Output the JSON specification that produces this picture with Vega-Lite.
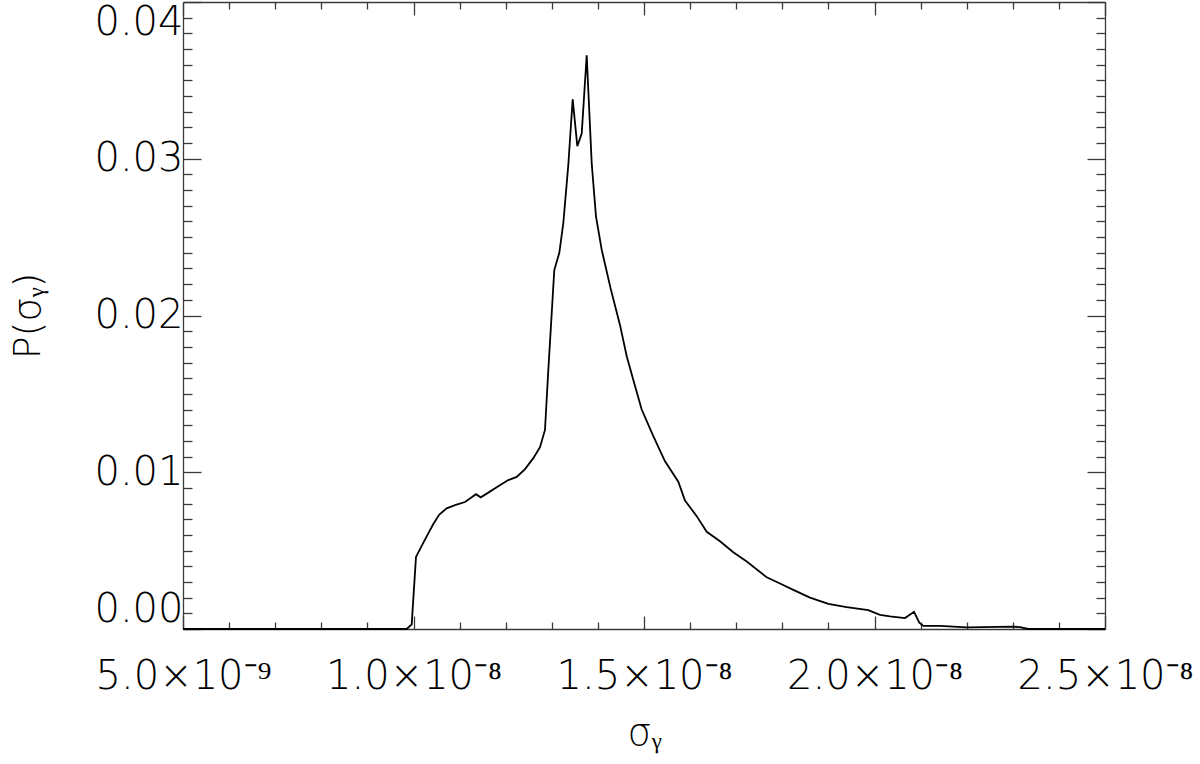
{
  "$schema": "https://vega.github.io/schema/vega-lite/v6.json",
  "width": 922,
  "height": 627,
  "autosize": "none",
  "padding": {"left": 183, "top": 2, "right": 95, "bottom": 135},
  "background": "white",
  "config": {
    "view": {"stroke": null},
    "axis": {
      "grid": false,
      "domainColor": "#3a3a3a",
      "domainWidth": 1.3,
      "tickColor": "#3a3a3a",
      "tickWidth": 1.3,
      "labelFont": "DejaVu Sans",
      "labelFontWeight": 200,
      "labelFontSize": 40,
      "labelColor": "#000000",
      "titleFont": "DejaVu Sans",
      "titleFontWeight": 200,
      "titleFontSize": 38,
      "titleColor": "#000000",
      "labelOverlap": false
    }
  },
  "data": {
    "values": [
      {"sigma": 5.0e-9, "p": 0},
      {"sigma": 9.853e-9, "p": 0},
      {"sigma": 9.961e-9, "p": 0.0003},
      {"sigma": 1.0054e-8, "p": 0.0046},
      {"sigma": 1.0178e-8, "p": 0.0053},
      {"sigma": 1.0321e-8, "p": 0.0061},
      {"sigma": 1.0430e-8, "p": 0.0067},
      {"sigma": 1.0560e-8, "p": 0.0073},
      {"sigma": 1.0720e-8, "p": 0.0077},
      {"sigma": 1.0900e-8, "p": 0.0079},
      {"sigma": 1.1117e-8, "p": 0.0081},
      {"sigma": 1.1263e-8, "p": 0.0084},
      {"sigma": 1.1356e-8, "p": 0.0086},
      {"sigma": 1.1458e-8, "p": 0.0084},
      {"sigma": 1.1623e-8, "p": 0.0087},
      {"sigma": 1.1839e-8, "p": 0.0091},
      {"sigma": 1.2056e-8, "p": 0.0095},
      {"sigma": 1.2239e-8, "p": 0.0097},
      {"sigma": 1.2419e-8, "p": 0.0102},
      {"sigma": 1.2599e-8, "p": 0.0109},
      {"sigma": 1.2744e-8, "p": 0.0116},
      {"sigma": 1.2852e-8, "p": 0.0127},
      {"sigma": 1.2918e-8, "p": 0.0162},
      {"sigma": 1.3054e-8, "p": 0.0229},
      {"sigma": 1.3163e-8, "p": 0.0240},
      {"sigma": 1.3250e-8, "p": 0.0259},
      {"sigma": 1.3358e-8, "p": 0.0296},
      {"sigma": 1.3453e-8, "p": 0.0338},
      {"sigma": 1.3553e-8, "p": 0.0308},
      {"sigma": 1.3649e-8, "p": 0.0316},
      {"sigma": 1.3757e-8, "p": 0.0366},
      {"sigma": 1.3866e-8, "p": 0.0297},
      {"sigma": 1.3959e-8, "p": 0.0263},
      {"sigma": 1.4082e-8, "p": 0.0242},
      {"sigma": 1.4278e-8, "p": 0.0217},
      {"sigma": 1.4479e-8, "p": 0.0194},
      {"sigma": 1.4625e-8, "p": 0.0174},
      {"sigma": 1.4805e-8, "p": 0.0155},
      {"sigma": 1.4950e-8, "p": 0.0140},
      {"sigma": 1.5202e-8, "p": 0.0123},
      {"sigma": 1.5456e-8, "p": 0.0107},
      {"sigma": 1.5744e-8, "p": 0.0094},
      {"sigma": 1.5889e-8, "p": 0.0082},
      {"sigma": 1.6143e-8, "p": 0.0072},
      {"sigma": 1.6360e-8, "p": 0.0062},
      {"sigma": 1.6649e-8, "p": 0.0056},
      {"sigma": 1.6937e-8, "p": 0.0049},
      {"sigma": 1.7228e-8, "p": 0.0043},
      {"sigma": 1.7662e-8, "p": 0.0033},
      {"sigma": 1.7950e-8, "p": 0.0029},
      {"sigma": 1.8239e-8, "p": 0.0025},
      {"sigma": 1.8601e-8, "p": 0.0020},
      {"sigma": 1.8998e-8, "p": 0.0016},
      {"sigma": 1.9397e-8, "p": 0.0014},
      {"sigma": 1.9866e-8, "p": 0.0012},
      {"sigma": 2.0119e-8, "p": 0.0009},
      {"sigma": 2.0336e-8, "p": 0.0008},
      {"sigma": 2.0662e-8, "p": 0.0007},
      {"sigma": 2.0857e-8, "p": 0.0011},
      {"sigma": 2.0972e-8, "p": 0.0004},
      {"sigma": 2.1059e-8, "p": 0.0002},
      {"sigma": 2.1421e-8, "p": 0.0002},
      {"sigma": 2.2000e-8, "p": 0.0001},
      {"sigma": 2.3004e-8, "p": 0.00015},
      {"sigma": 2.3156e-8, "p": 0.00012},
      {"sigma": 2.3336e-8, "p": 0},
      {"sigma": 2.5e-8, "p": 0}
    ]
  },
  "resolve": {"axis": {"x": "independent", "y": "independent"}},
  "layer": [
    {
      "mark": {"type": "line", "color": "#000000", "strokeWidth": 1.8, "strokeJoin": "miter"},
      "encoding": {
        "x": {
          "field": "sigma", "type": "quantitative",
          "scale": {"domain": [5e-9, 2.5e-8], "nice": false, "zero": false},
          "axis": {
            "orient": "bottom",
            "values": [5e-9, 6e-9, 7e-9, 8e-9, 9e-9, 1e-8, 1.1e-8, 1.2e-8, 1.3e-8, 1.4e-8, 1.5e-8, 1.6e-8, 1.7e-8, 1.8e-8, 1.9e-8, 2e-8, 2.1e-8, 2.2e-8, 2.3e-8, 2.4e-8, 2.5e-8],
            "tickSize": {"condition": {"test": "round(datum.value*1e9) % 5 == 0", "value": -13}, "value": -7},
            "labelExpr": "round(datum.value*1e9) % 5 != 0 ? '' : (round(datum.value*1e9) == 5 ? '5.0×10⁻⁹' : format(round(datum.value*1e9)/10, '.1f') + '×10⁻⁸')",
            "labelFlush": false,
            "labelPadding": 40,
            "title": "σᵧ",
            "titlePadding": 12
          }
        },
        "y": {
          "field": "p", "type": "quantitative",
          "scale": {"domain": [0, 0.04], "nice": false, "zero": true},
          "axis": {
            "orient": "left",
            "values": [0, 0.001, 0.002, 0.003, 0.004, 0.005, 0.006, 0.007, 0.008, 0.009, 0.01, 0.011, 0.012, 0.013, 0.014, 0.015, 0.016, 0.017, 0.018, 0.019, 0.02, 0.021, 0.022, 0.023, 0.024, 0.025, 0.026, 0.027, 0.028, 0.029, 0.03, 0.031, 0.032, 0.033, 0.034, 0.035, 0.036, 0.037, 0.038, 0.039, 0.04],
            "tickSize": {"condition": {"test": "round(datum.value*1000) % 10 == 0", "value": -18}, "value": -9},
            "labelExpr": "round(datum.value*1000) % 10 != 0 ? '' : format(datum.value, '.2f')",
            "labelFlush": true,
            "labelFlushOffset": 0,
            "labelPadding": 18,
            "title": "P(σᵧ)",
            "titlePadding": 46
          }
        }
      }
    },
    {
      "mark": {"type": "line", "opacity": 0},
      "encoding": {
        "x": {
          "field": "sigma", "type": "quantitative",
          "scale": {"domain": [5e-9, 2.5e-8], "nice": false, "zero": false},
          "axis": {
            "orient": "top",
            "values": [5e-9, 6e-9, 7e-9, 8e-9, 9e-9, 1e-8, 1.1e-8, 1.2e-8, 1.3e-8, 1.4e-8, 1.5e-8, 1.6e-8, 1.7e-8, 1.8e-8, 1.9e-8, 2e-8, 2.1e-8, 2.2e-8, 2.3e-8, 2.4e-8, 2.5e-8],
            "tickSize": {"condition": {"test": "round(datum.value*1e9) % 5 == 0", "value": -13}, "value": -7},
            "labels": false,
            "title": null
          }
        },
        "y": {
          "field": "p", "type": "quantitative",
          "scale": {"domain": [0, 0.04], "nice": false, "zero": true},
          "axis": {
            "orient": "right",
            "values": [0, 0.001, 0.002, 0.003, 0.004, 0.005, 0.006, 0.007, 0.008, 0.009, 0.01, 0.011, 0.012, 0.013, 0.014, 0.015, 0.016, 0.017, 0.018, 0.019, 0.02, 0.021, 0.022, 0.023, 0.024, 0.025, 0.026, 0.027, 0.028, 0.029, 0.03, 0.031, 0.032, 0.033, 0.034, 0.035, 0.036, 0.037, 0.038, 0.039, 0.04],
            "tickSize": {"condition": {"test": "round(datum.value*1000) % 10 == 0", "value": -18}, "value": -9},
            "labels": false,
            "title": null
          }
        }
      }
    }
  ]
}
